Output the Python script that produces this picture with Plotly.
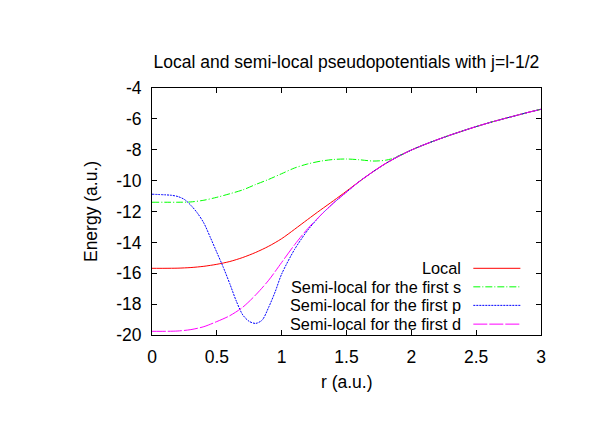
import plotly.graph_objects as go

# ---- data ----
r_local = [0, 0.1, 0.2, 0.3, 0.4, 0.5, 0.6, 0.7, 0.8, 0.9, 1.0, 1.1, 1.2, 1.3, 1.4, 1.5,
           1.6, 1.7, 1.8, 1.9, 2.0, 2.1, 2.2, 2.3, 2.4, 2.5, 2.6, 2.7, 2.8, 2.9, 3.0]
v_local = [-15.68, -15.68, -15.67, -15.63, -15.55, -15.42, -15.24, -14.98, -14.65, -14.25,
           -13.76, -13.15, -12.52, -11.90, -11.30, -10.68,
           -10.05, -9.45, -8.90, -8.43, -8.02, -7.67, -7.35, -7.05, -6.77, -6.50,
           -6.25, -6.02, -5.80, -5.58, -5.38]

r_s = [0, 0.1, 0.2, 0.3, 0.4, 0.5, 0.6, 0.7, 0.8, 0.9, 1.0, 1.1, 1.2, 1.3, 1.4, 1.5,
       1.6, 1.7, 1.75, 1.8, 1.85, 1.9, 1.95, 2.0, 2.1, 2.2, 2.3, 2.4, 2.5, 2.6, 2.7, 2.8, 2.9, 3.0]
v_s = [-11.40, -11.40, -11.40, -11.38, -11.27, -11.08, -10.85, -10.60, -10.25, -9.92,
       -9.55, -9.18, -8.92, -8.74, -8.63, -8.60,
       -8.65, -8.73, -8.72, -8.68, -8.58, -8.40, -8.22, -8.02, -7.67, -7.35, -7.05, -6.77,
       -6.50, -6.25, -6.02, -5.80, -5.58, -5.38]

r_p = [0, 0.1, 0.15, 0.2, 0.25, 0.3, 0.35, 0.4, 0.45, 0.5, 0.55, 0.6, 0.65, 0.7, 0.75,
       0.8, 0.85, 0.9, 0.95, 1.0, 1.1, 1.2, 1.3, 1.4, 1.5,
       1.6, 1.7, 1.8, 1.9, 2.0, 2.1, 2.2, 2.3, 2.4, 2.5, 2.6, 2.7, 2.8, 2.9, 3.0]
v_p = [-10.88, -10.92, -10.95, -11.03, -11.22, -11.60, -12.10, -12.75, -13.68, -14.65,
       -15.62, -16.68, -17.80, -18.70, -19.12, -19.25, -19.03, -18.20, -17.20, -16.05,
       -14.45, -13.22, -12.25, -11.45, -10.74,
       -10.05, -9.45, -8.90, -8.43, -8.02, -7.67, -7.35, -7.05, -6.77, -6.50,
       -6.25, -6.02, -5.80, -5.58, -5.38]

r_d = [0, 0.1, 0.2, 0.3, 0.4, 0.5, 0.6, 0.7, 0.8, 0.9, 1.0, 1.1, 1.2, 1.3, 1.4, 1.5,
       1.6, 1.7, 1.8, 1.9, 2.0, 2.1, 2.2, 2.3, 2.4, 2.5, 2.6, 2.7, 2.8, 2.9, 3.0]
v_d = [-19.76, -19.76, -19.74, -19.65, -19.46, -19.13, -18.75, -18.20, -17.40, -16.45,
       -15.30, -14.15, -13.12, -12.25, -11.45, -10.74,
       -10.05, -9.45, -8.90, -8.43, -8.02, -7.67, -7.35, -7.05, -6.77, -6.50,
       -6.25, -6.02, -5.80, -5.58, -5.38]

series_names = ["Local", "Semi-local for the first s",
                "Semi-local for the first p", "Semi-local for the first d"]
series_colors = ["#ff0000", "#00ff00", "#0000ff", "#ff00ff"]
series_dash = ["solid", "7px,2px,1px,2px", "2px,1px", "14px,2px"]

x_ticks = [0, 0.5, 1, 1.5, 2, 2.5, 3]
x_ticktext = ["0", "0.5", "1", "1.5", "2", "2.5", "3"]
y_ticks = [-20, -18, -16, -14, -12, -10, -8, -6, -4]
y_ticktext = ["-20", "-18", "-16", "-14", "-12", "-10", "-8", "-6", "-4"]

title_text = "Local and semi-local pseudopotentials with j=l-1/2"
xlabel = "r (a.u.)"
ylabel = "Energy (a.u.)"

FONT = "Liberation Sans, Arial, sans-serif"
FS = 17.5
FS_LEG = 16.3

fig = go.Figure()
data = [(r_local, v_local), (r_s, v_s), (r_p, v_p), (r_d, v_d)]
for (rx, vy), name, col, dash in zip(data, series_names, series_colors, series_dash):
    fig.add_trace(go.Scatter(x=rx, y=vy, mode="lines", name=name,
                             line=dict(color=col, width=1, dash=dash, shape="spline",
                                       smoothing=0.8),
                             showlegend=False))

# manual gnuplot-style legend (text right-aligned, sample on the right)
leg_y = [0.270, 0.195, 0.120, 0.044]
for name, col, dash, yy in zip(series_names, series_colors, series_dash, leg_y):
    fig.add_annotation(x=0.797, y=yy, xref="paper", yref="paper", text=name,
                       showarrow=False, xanchor="right", yanchor="middle",
                       borderpad=0,
                       font=dict(family=FONT, size=FS_LEG, color="black"))
    fig.add_shape(type="line", xref="paper", yref="paper", x0=0.826, x1=0.947,
                  y0=yy, y1=yy, line=dict(color=col, width=1, dash=dash))

fig.add_annotation(x=0.5, y=-0.19, xref="paper", yref="paper", text=xlabel,
                   showarrow=False, xanchor="center", yanchor="middle",
                   font=dict(family=FONT, size=FS, color="black"))
fig.add_annotation(x=-0.158, y=0.5, xref="paper", yref="paper", text=ylabel,
                   showarrow=False, xanchor="center", yanchor="middle", textangle=-90,
                   font=dict(family=FONT, size=FS, color="black"))

axis_common = dict(showgrid=False, zeroline=False, showline=True, linecolor="black",
                   linewidth=1, mirror="allticks", ticks="inside", ticklen=5,
                   tickcolor="black", tickwidth=1,
                   tickfont=dict(family=FONT, size=FS, color="black"))

fig.update_layout(
    width=612, height=428,
    margin=dict(l=144, r=79, t=80, b=101),
    paper_bgcolor="white", plot_bgcolor="white",
    title=dict(text=title_text, x=0.553, xanchor="center", y=1 - 54 / 428,
               yanchor="middle", yref="container",
               font=dict(family=FONT, size=FS, color="black")),
    xaxis=dict(range=[0, 3], tickvals=x_ticks, ticktext=x_ticktext,
               ticklabelstandoff=6, **axis_common),
    yaxis=dict(range=[-20, -4], tickvals=y_ticks, ticktext=y_ticktext,
               ticklabelstandoff=6, **axis_common),
)

fig.write_html("out.html")
